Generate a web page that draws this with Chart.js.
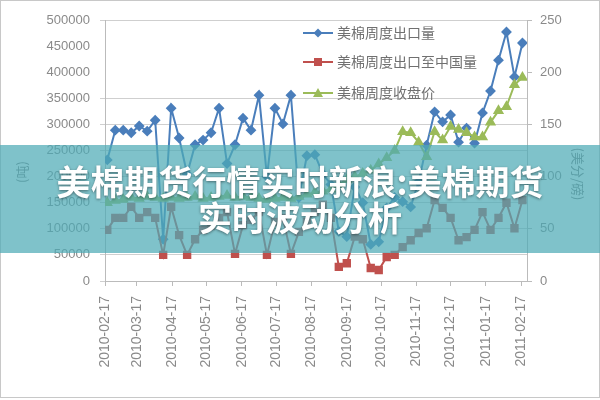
<!DOCTYPE html>
<html lang="zh">
<head>
  <meta charset="UTF-8">
  <title>美棉期货实时波动分析</title>
  <script src="https://cdn.jsdelivr.net/npm/chart.js"></script>
  <style>
    body { margin: 0; background: #fff; }
    #wrap { position: relative; width: 600px; height: 400px; overflow: hidden; }
    #banner {
      position: absolute; left: 0; top: 145px; width: 600px; height: 108px;
      background: rgba(78, 171, 182, 0.72);
      display: flex; flex-direction: column; align-items: center; justify-content: center;
      color: #fff; font-family: "Noto Sans CJK SC", sans-serif; font-weight: bold;
      font-size: 34px; line-height: 36px; text-shadow: 0 1px 3px rgba(0,0,0,0.45);
    }
  </style>
</head>
<body>
  <div id="wrap">
    <canvas id="myChart" width="600" height="400"></canvas>
    <div id="banner"><div>美棉期货行情实时新浪:美棉期货</div><div>实时波动分析</div></div>
  </div>

  <script>
    // weekly dates of the three series
    const weekDates = [
      '2010-02-19', '2010-02-26', '2010-03-05', '2010-03-12', '2010-03-19', '2010-03-26',
      '2010-04-02', '2010-04-09', '2010-04-16', '2010-04-23', '2010-04-30',
      '2010-05-07', '2010-05-14', '2010-05-21', '2010-05-28',
      '2010-06-04', '2010-06-11', '2010-06-18', '2010-06-25',
      '2010-07-02', '2010-07-09', '2010-07-16', '2010-07-23', '2010-07-30',
      '2010-08-06', '2010-08-13', '2010-08-20', '2010-08-27',
      '2010-09-03', '2010-09-10', '2010-09-17', '2010-09-24',
      '2010-10-01', '2010-10-08', '2010-10-15', '2010-10-22', '2010-10-29',
      '2010-11-05', '2010-11-12', '2010-11-19', '2010-11-26',
      '2010-12-03', '2010-12-10', '2010-12-17', '2010-12-24', '2010-12-31',
      '2011-01-07', '2011-01-14', '2011-01-21', '2011-01-28',
      '2011-02-04', '2011-02-11', '2011-02-18'
    ];

    // 美棉周度出口量 (吨)
    const exportTotal = [
      232000, 289000, 289000, 284000, 297000, 287000, 308000, 80000, 331000, 274000, 205000,
      261000, 270000, 284000, 331000, 225000, 261000, 312000, 289000, 356000, 200000, 331000,
      301000, 356000, 160000, 240000, 242000, 205000, 185000, 95000, 85000, 180000, 150000,
      70000, 75000, 140000, 160000, 152000, 142000, 190000, 260000, 324000, 305000, 318000,
      266000, 293000, 264000, 322000, 364000, 423000, 477000, 391000, 456000
    ];

    // 美棉周度出口至中国量 (吨)
    const exportChina = [
      98000, 121000, 121000, 142000, 121000, 132000, 121000, 50000, 142000, 88000, 50000,
      80000, 98000, 105000, 121000, 132000, 52000, 107000, 117000, 132000, 50000, 113000,
      121000, 52000, 94000, 113000, 132000, 146000, 121000, 27000, 34000, 85000, 80000,
      25000, 21000, 46000, 50000, 65000, 78000, 92000, 101000, 155000, 140000, 121000,
      78000, 84000, 98000, 132000, 98000, 121000, 150000, 101000, 155000
    ];

    // 美棉周度收盘价 (美分/磅)
    const closePrice = [
      75, 77, 78, 80, 79, 81, 80, 79, 80, 79, 80,
      81, 79, 80, 81, 82, 80, 81, 80, 79, 78, 79,
      80, 79, 81, 83, 85, 86, 88, 92, 97, 100, 103,
      106, 112, 118, 125, 143, 142, 133, 119, 143, 135, 148,
      145, 142, 138, 138, 152, 163, 167, 188, 195
    ];

    // x axis tick labels
    const monthTicks = [
      '2010-02-17', '2010-03-17', '2010-04-17', '2010-05-17', '2010-06-17', '2010-07-17',
      '2010-08-17', '2010-09-17', '2010-10-17', '2010-11-17', '2010-12-17', '2011-01-17', '2011-02-17'
    ];

    const seriesNames = ['美棉周度出口量', '美棉周度出口至中国量', '美棉周度收盘价'];
    const leftTitle = '(吨)';
    const rightTitle = '(美分/磅)';

    const BLUE = '#4a7ebb';
    const RED = '#c0504d';
    const GREEN = '#9bbb59';

    const dayOf = s => (Date.parse(s) - Date.parse('2010-02-17')) / 86400000;
    const toPoints = arr => arr.map((v, i) => ({ x: dayOf(weekDates[i]), y: v }));

    function drawMarker(ctx, style, x, y, color) {
      ctx.fillStyle = color;
      ctx.beginPath();
      if (style === 'rectRot') {
        ctx.moveTo(x, y - 4.5); ctx.lineTo(x + 4.5, y); ctx.lineTo(x, y + 4.5); ctx.lineTo(x - 4.5, y);
      } else if (style === 'rect') {
        ctx.rect(x - 4, y - 4, 8, 8);
      } else {
        ctx.moveTo(x, y - 5); ctx.lineTo(x + 5, y + 4); ctx.lineTo(x - 5, y + 4);
      }
      ctx.closePath();
      ctx.fill();
    }

    // legend inside the plot, axis titles and outer frame
    const extras = {
      id: 'extras',
      afterDraw(chart) {
        const ctx = chart.ctx;
        ctx.save();
        const rows = [
          { name: seriesNames[0], color: BLUE, style: 'rectRot', y: 33 },
          { name: seriesNames[1], color: RED, style: 'rect', y: 62 },
          { name: seriesNames[2], color: GREEN, style: 'triangle', y: 93 }
        ];
        rows.forEach(r => {
          ctx.strokeStyle = r.color;
          ctx.lineWidth = 2;
          ctx.beginPath();
          ctx.moveTo(303, r.y); ctx.lineTo(333, r.y);
          ctx.stroke();
          drawMarker(ctx, r.style, 318, r.y, r.color);
          ctx.fillStyle = '#707070';
          ctx.font = '14px "Noto Sans CJK SC"';
          ctx.textBaseline = 'middle';
          ctx.textAlign = 'left';
          ctx.fillText(r.name, 337, r.y);
        });

        ctx.fillStyle = '#808080';
        ctx.font = '13px "Noto Sans CJK SC"';
        ctx.textAlign = 'center';
        ctx.save();
        ctx.translate(22, 172);
        ctx.rotate(-Math.PI / 2);
        ctx.fillText(leftTitle, 0, 0);
        ctx.restore();
        ctx.save();
        ctx.translate(578, 174);
        ctx.rotate(Math.PI / 2);
        ctx.fillText(rightTitle, 0, 0);
        ctx.restore();

        ctx.strokeStyle = '#c8c8c8';
        ctx.lineWidth = 1;
        ctx.strokeRect(0.5, 0.5, 599, 397);
        ctx.restore();
      }
    };

    const ctx = document.getElementById('myChart').getContext('2d');
    const tickFont = { family: 'Liberation Sans', size: 13 };

    const myChart = new Chart(ctx, {
      type: 'line',
      data: {
        datasets: [
          {
            label: seriesNames[0], data: toPoints(exportTotal), yAxisID: 'y',
            borderColor: BLUE, backgroundColor: BLUE, borderWidth: 2,
            pointStyle: 'rectRot', pointRadius: 4, order: 3
          },
          {
            label: seriesNames[1], data: toPoints(exportChina), yAxisID: 'y',
            borderColor: RED, backgroundColor: RED, borderWidth: 2,
            pointStyle: 'rect', pointRadius: 4.5, order: 2
          },
          {
            label: seriesNames[2], data: toPoints(closePrice), yAxisID: 'y2',
            borderColor: GREEN, backgroundColor: GREEN, borderWidth: 2,
            pointStyle: 'triangle', pointRadius: 4.5, order: 1
          }
        ]
      },
      options: {
        responsive: false,
        animation: false,
        layout: { padding: { top: 20, left: 0, right: 0, bottom: 0 } },
        plugins: { legend: { display: false }, tooltip: { enabled: false } },
        elements: { line: { tension: 0 } },
        scales: {
          x: {
            type: 'linear', min: 0, max: 370,
            afterBuildTicks: scale => { scale.ticks = monthTicks.map(d => ({ value: dayOf(d) })); },
            afterFit: scale => { scale.height = 119; },
            ticks: {
              autoSkip: false, maxRotation: 90, minRotation: 90, padding: 10,
              color: '#8a8a8a', font: { family: 'Liberation Sans', size: 14 },
              callback: (v, i) => monthTicks[i]
            },
            grid: { drawOnChartArea: false, drawTicks: true, tickLength: 5, color: '#bbb' },
            border: { color: '#bbb' }
          },
          y: {
            position: 'left', min: 0, max: 500000,
            afterFit: scale => { scale.width = 105; },
            ticks: { stepSize: 50000, padding: 10, color: '#8a8a8a', font: tickFont, callback: v => String(v) },
            grid: {
              tickLength: 5,
              color: c => (c.tick.value <= 350000 || c.tick.value === 500000) ? '#cfcfcf' : 'rgba(0,0,0,0)'
            },
            border: { color: '#bbb' }
          },
          y2: {
            position: 'right', min: 0, max: 250,
            afterFit: scale => { scale.width = 73; },
            ticks: { stepSize: 50, padding: 8, color: '#8a8a8a', font: tickFont, callback: v => String(v) },
            grid: { drawOnChartArea: false, tickLength: 5, color: '#bbb' },
            border: { color: '#bbb' }
          }
        }
      },
      plugins: [extras]
    });
  </script>
</body>
</html>
